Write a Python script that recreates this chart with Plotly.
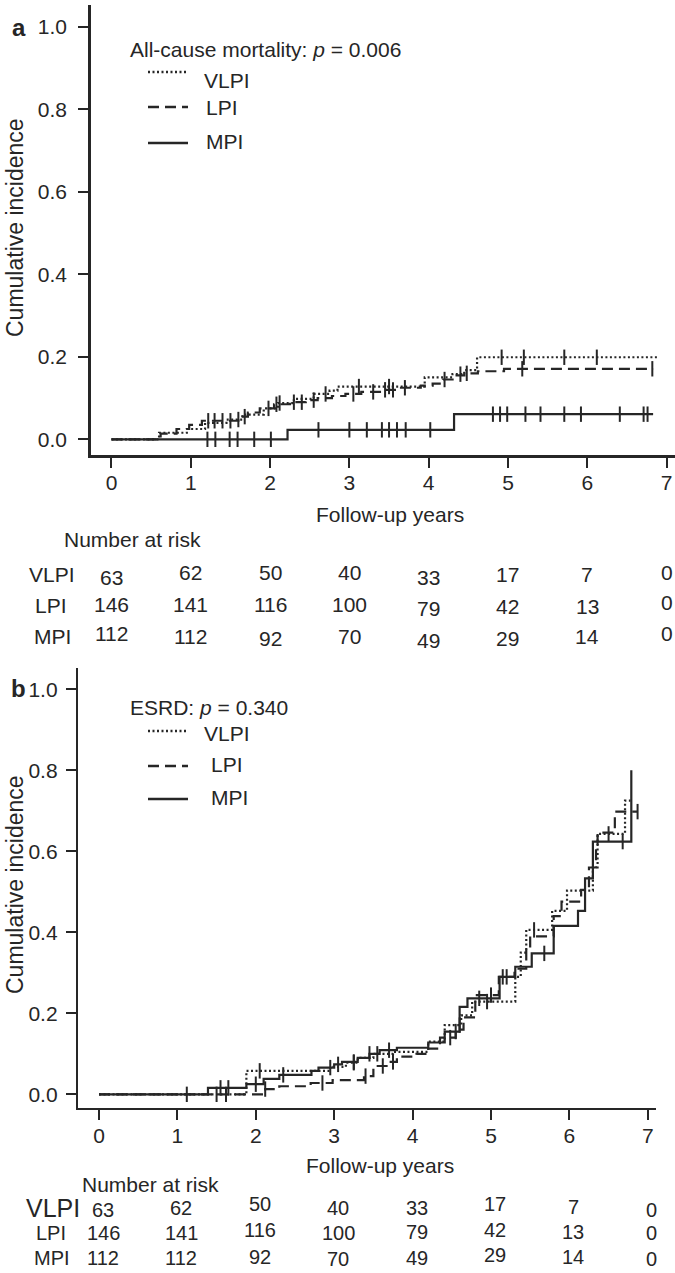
import numpy as np
import plotly.graph_objects as go

# ---------------- DATA ----------------
years = [0, 1, 2, 3, 4, 5, 6, 7]
yticks = [0.0, 0.2, 0.4, 0.6, 0.8, 1.0]
groups = ["VLPI", "LPI", "MPI"]

# Panel a: all-cause mortality (step times, cumulative incidence after step)
a_vlpi_t = [0, 0.60, 0.95, 1.18, 1.45, 1.65, 1.92, 2.10, 2.30, 2.55, 2.75, 2.85, 3.95, 4.30, 4.45, 4.61, 6.89]
a_vlpi_v = [0, 0.016, 0.025, 0.040, 0.048, 0.060, 0.075, 0.088, 0.098, 0.110, 0.118, 0.128, 0.150, 0.158, 0.168, 0.199, 0.199]
a_lpi_t = [0, 0.62, 0.82, 0.98, 1.14, 1.60, 1.72, 1.87, 2.05, 2.25, 2.45, 2.60, 2.78, 2.95, 3.15, 3.40, 3.62, 3.90,
           4.05, 4.18, 4.32, 4.45, 4.62, 4.95, 6.83]
a_lpi_v = [0, 0.014, 0.025, 0.035, 0.045, 0.055, 0.065, 0.075, 0.085, 0.090, 0.095, 0.100, 0.105, 0.110, 0.115, 0.120,
           0.125, 0.130, 0.135, 0.145, 0.155, 0.160, 0.165, 0.171, 0.171]
a_mpi_t = [0, 2.22, 4.32, 6.83]
a_mpi_v = [0, 0.023, 0.061, 0.061]
a_vlpi_cens = [1.60, 2.12, 2.70, 3.12, 3.50, 4.40, 4.92, 5.20, 5.71, 6.12]
a_lpi_cens = [1.22, 1.30, 1.40, 1.50, 1.68, 1.98, 2.08, 2.30, 2.40, 2.55, 3.05, 3.30, 3.45, 3.55, 3.70, 4.20, 4.48,
              5.18, 6.82]
a_mpi_cens = [1.21, 1.31, 1.49, 1.59, 1.80, 2.01, 2.61, 3.00, 3.22, 3.41, 3.50, 3.60, 3.71, 4.02, 4.81, 4.90, 4.99,
              5.22, 5.41, 5.71, 5.92, 6.41, 6.71, 6.76]

# Panel b: ESRD
b_vlpi_t = [0, 1.88, 2.95, 3.15, 3.30, 3.50, 3.75, 4.20, 4.41, 4.62, 4.76, 5.31, 5.38, 5.45, 5.78, 5.97, 6.30, 6.36,
            6.71, 6.78]
b_vlpi_v = [0, 0.058, 0.068, 0.078, 0.090, 0.100, 0.105, 0.130, 0.171, 0.195, 0.229, 0.290, 0.350, 0.406, 0.453,
            0.503, 0.560, 0.643, 0.725, 0.725]
b_lpi_t = [0, 2.12, 2.30, 2.70, 2.98, 3.38, 3.50, 3.70, 3.80, 4.05, 4.20, 4.35, 4.55, 4.65, 4.80, 5.10, 5.30, 5.45,
           5.50, 5.80, 5.90, 6.15, 6.25, 6.34, 6.36, 6.58, 6.87]
b_lpi_v = [0, 0.013, 0.020, 0.028, 0.035, 0.045, 0.070, 0.080, 0.093, 0.100, 0.113, 0.140, 0.160, 0.190, 0.245,
           0.290, 0.310, 0.360, 0.390, 0.440, 0.476, 0.505, 0.560, 0.610, 0.646, 0.698, 0.698]
b_mpi_t = [0, 1.39, 1.88, 2.10, 2.30, 2.71, 2.80, 3.00, 3.10, 3.30, 3.45, 3.58, 3.80, 4.20, 4.41, 4.60, 4.70, 5.11,
           5.31, 5.52, 5.80, 6.11, 6.20, 6.30, 6.79]
b_mpi_v = [0, 0.016, 0.025, 0.038, 0.048, 0.058, 0.066, 0.074, 0.080, 0.090, 0.100, 0.109, 0.115, 0.128, 0.155,
           0.216, 0.237, 0.290, 0.315, 0.348, 0.416, 0.453, 0.533, 0.624, 0.800]
b_vlpi_cens = [1.50, 1.62, 2.05, 3.25, 4.60, 4.95, 5.55, 6.50]
b_lpi_cens = [2.12, 2.85, 3.40, 3.62, 3.75, 4.48, 5.00, 5.20, 6.87]
b_mpi_cens = [1.12, 1.55, 1.65, 2.00, 2.35, 2.95, 3.05, 3.25, 3.45, 3.55, 3.70, 4.55, 4.85, 5.15, 5.68, 6.68]

# Numbers at risk (same in both panels)
risk_vlpi = [63, 62, 50, 40, 33, 17, 7, 0]
risk_lpi = [146, 141, 116, 100, 79, 42, 13, 0]
risk_mpi = [112, 112, 92, 70, 49, 29, 14, 0]

title_a = "All-cause mortality: <i>p</i> = 0.006"
title_b = "ESRD: <i>p</i> = 0.340"

# ---------------- STYLE / LAYOUT ----------------
W, H = 675, 1273
INK = "#262626"
FONT = "Liberation Sans, Arial, Helvetica, sans-serif"
dashes = {"VLPI": "2px,2.5px", "LPI": "11px,6px", "MPI": "solid"}


def px(x):
    return x / W


def py(y):
    return 1 - y / H


def step_at(t, v, x):
    idx = np.searchsorted(np.asarray(t), np.asarray(x), side="right") - 1
    return np.asarray(v)[idx]


fig = go.Figure()

panels = [
    ("x", "y", {"VLPI": (a_vlpi_t, a_vlpi_v, a_vlpi_cens), "LPI": (a_lpi_t, a_lpi_v, a_lpi_cens),
                "MPI": (a_mpi_t, a_mpi_v, a_mpi_cens)}),
    ("x2", "y2", {"VLPI": (b_vlpi_t, b_vlpi_v, b_vlpi_cens), "LPI": (b_lpi_t, b_lpi_v, b_lpi_cens),
                  "MPI": (b_mpi_t, b_mpi_v, b_mpi_cens)}),
]

for xa, ya, series in panels:
    for g in groups:
        t, v, c = series[g]
        fig.add_trace(go.Scatter(x=t, y=v, mode="lines", line=dict(shape="hv", color=INK, width=2.2, dash=dashes[g]),
                                 name=g, showlegend=False, xaxis=xa, yaxis=ya, hoverinfo="skip", cliponaxis=False))
        fig.add_trace(go.Scatter(x=c, y=step_at(t, v, c), mode="markers",
                                 marker=dict(symbol="line-ns", size=11, line=dict(color=INK, width=2)),
                                 name=g + " censored", showlegend=False, xaxis=xa, yaxis=ya, hoverinfo="skip",
                                 cliponaxis=False))

axis_common = dict(showline=True, linecolor=INK, linewidth=2.5, ticks="outside", ticklen=10, tickwidth=2,
                   tickcolor=INK, showgrid=False, zeroline=False, tickfont=dict(family=FONT, size=21, color=INK),
                   fixedrange=True, automargin=False)

fig.update_layout(
    template="none",
    width=W, height=H, margin=dict(l=0, r=0, t=0, b=0, pad=0), paper_bgcolor="white", plot_bgcolor="white",
    font=dict(family=FONT, size=21, color=INK), showlegend=False,
    xaxis=dict(domain=[px(90.7), 1.0], range=[-0.262, 7.106], tickvals=years, anchor="y",
               ticklabelstandoff=-3, **axis_common),
    yaxis=dict(domain=[py(455), py(5)], range=[-0.038, 1.053], tickvals=yticks, tickformat=".1f", anchor="x",
               ticklabelstandoff=7, **axis_common),
    xaxis2=dict(domain=[px(78.3), px(656)], range=[-0.264, 7.105], tickvals=years, anchor="y2",
                ticklabelstandoff=-2, **axis_common),
    yaxis2=dict(domain=[py(1107.7), py(668)], range=[-0.033, 1.0526], tickvals=yticks, tickformat=".1f",
                anchor="x2", ticklabelstandoff=4, **axis_common),
)

ann = []
shapes = []


def text(x, y, s, size=21, xanchor="left", xref="paper", bold=False, angle=0, yshift=0, xshift=0):
    ann.append(dict(x=x, y=y, xref=xref, yref="paper", text=("<b>%s</b>" % s) if bold else s, showarrow=False,
                    xanchor=xanchor, yanchor="middle", textangle=angle, yshift=yshift, xshift=xshift,
                    font=dict(family=FONT, size=size, color=INK)))


# panel letters
text(px(10), py(27), "a", size=24, bold=True)
text(px(9), py(688), "b", size=24, bold=True)

# y titles
text(px(15), py(228), "Cumulative incidence", size=23, xanchor="center", angle=-90)
text(px(15), py(885), "Cumulative incidence", size=23, xanchor="center", angle=-90)

# x titles
text(px(390), py(514), "Follow-up years", xanchor="center")
text(px(380), py(1165), "Follow-up years", xanchor="center")

# legends (drawn)
leg = [
    (title_a, 128, 50, [(72, 80, 202), (107, 108, 204), (143, 142, 204)]),
    (title_b, 128, 707, [(731, 733, 202), (766, 764, 209), (799, 797, 209)]),
]
for title, tx, ty, rows in leg:
    text(px(tx), py(ty), title)
    for g, (ly, tyy, txx) in zip(groups, rows):
        shapes.append(dict(type="line", xref="paper", yref="paper", x0=px(148), x1=px(188), y0=py(ly), y1=py(ly),
                           line=dict(color=INK, width=2.4, dash=dashes[g])))
        text(px(txx), py(tyy), g)

# number at risk tables
text(px(62), py(539), "Number at risk")
text(px(80), py(1184), "Number at risk")

a_rows = [(risk_vlpi, 574, [-3, 2, 2, 2, -3, 0, 0, 2]), (risk_lpi, 605, [1, 1, 1, 1, -3, -1, -1, 3]),
          (risk_mpi, 636, [3, 0, -2, 0, -4, -2, 0, 3])]
b_rows = [(risk_vlpi, 1208, [-2, 0, 4, 0, 0, 4, 1, -2]), (risk_lpi, 1233, [0, 0, 3, 0, 1, 3, 1, 0]),
          (risk_mpi, 1258, [0, 0, 1, -1, 0, 3, 1, -1])]
a_lab = [(27, 21, 21), (33, 21, 21), (32, 21, 21)]
b_lab = [(24, 25, 20), (34, 20, 20), (32, 20, 20)]

for rows, labs, xref, xs in [(a_rows, a_lab, "x", 0), (b_rows, b_lab, "x2", 4)]:
    for g, (vals, yy, offs), (lx, ls, ns) in zip(groups, rows, labs):
        text(px(lx), py(yy), g, size=ls)
        for yr, n, o in zip(years, vals, offs):
            text(yr, py(yy), str(n), size=ns, xanchor="center", xref=xref, yshift=o, xshift=xs)

fig.update_layout(annotations=ann, shapes=shapes)
fig.write_html("out.html", config={"displayModeBar": False, "staticPlot": True},
               post_script="document.body.style.margin='0';document.body.style.overflow='hidden';")
